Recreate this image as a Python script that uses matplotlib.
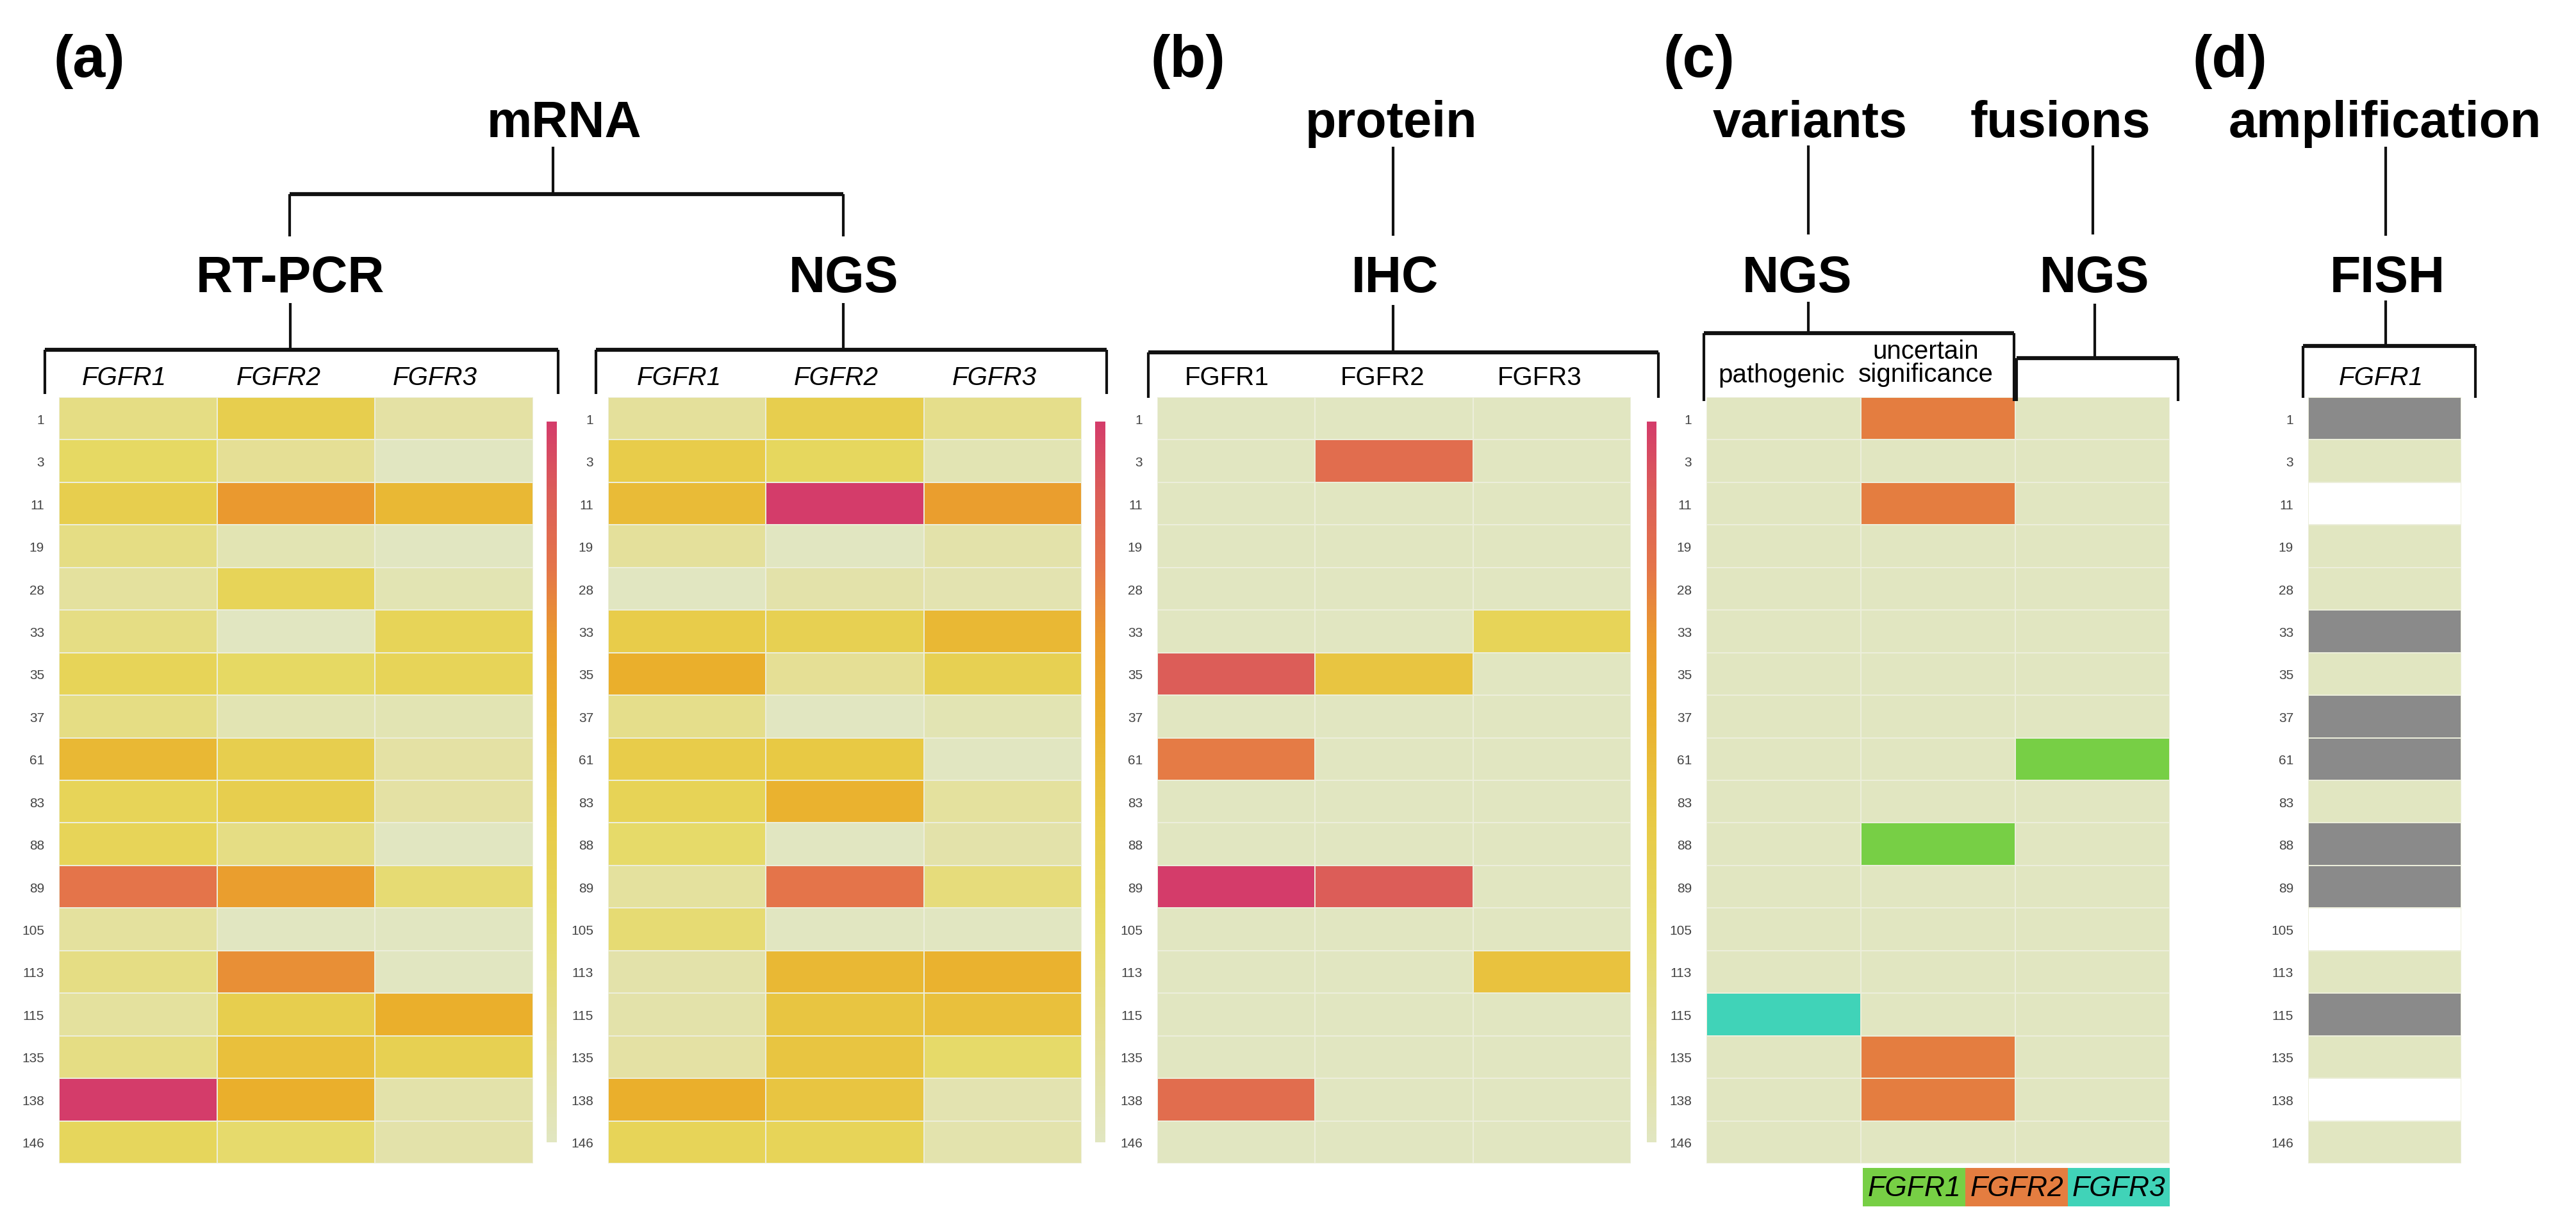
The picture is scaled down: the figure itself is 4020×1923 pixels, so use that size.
import numpy as np
import matplotlib
matplotlib.use("Agg")
import matplotlib.pyplot as plt
from matplotlib.colors import LinearSegmentedColormap, ListedColormap, Normalize, BoundaryNorm
from matplotlib.colorbar import ColorbarBase

plt.rcParams['font.family'] = ['Liberation Sans', 'DejaVu Sans']

samples = ['1', '3', '11', '19', '28', '33', '35', '37', '61', '83', '88', '89',
           '105', '113', '115', '135', '138', '146']
genes = ['FGFR1', 'FGFR2', 'FGFR3']

# mRNA expression, RT-PCR (relative level, 0-10)
rtpcr_fgfr1 = [2, 3, 4, 2, 1.2, 2, 3.5, 2, 5.5, 3.5, 3.5, 8, 1.2, 2, 1.2, 2, 10, 3.3]
rtpcr_fgfr2 = [4, 1.5, 7, 0.5, 3.5, 0, 3, 0.5, 4, 4, 2, 6.8, 0, 7.3, 4, 5, 6, 2.7]
rtpcr_fgfr3 = [1, 0, 5.5, 0, 0.5, 3.5, 3.5, 0.5, 1, 1, 0, 2.5, 0, 0, 6, 3.8, 0.8, 0.8]

# mRNA expression, NGS
ngs_fgfr1 = [1.3, 4.2, 5.3, 1.3, 0, 4.2, 6, 1.8, 4.2, 3.6, 2.8, 1.2, 2.5, 0.8, 0.8, 1, 6, 3.5]
ngs_fgfr2 = [4, 3.2, 10, 0, 0.8, 3.8, 1.5, 0, 4.5, 5.8, 0, 8, 0, 5.5, 4.7, 4.7, 4.7, 3.5]
ngs_fgfr3 = [1.8, 0.5, 6.8, 0.8, 0.6, 5.5, 3.8, 0.5, 0, 1.2, 0.8, 2.3, 0, 5.8, 5, 2.8, 0.6, 0.7]

# protein, IHC
ihc_fgfr1 = [0, 0, 0, 0, 0, 0, 9, 0, 7.8, 0, 0, 10, 0, 0, 0, 0, 8.3, 0]
ihc_fgfr2 = [0, 8.3, 0, 0, 0, 0, 4.7, 0, 0, 0, 0, 9, 0, 0, 0, 0, 0, 0]
ihc_fgfr3 = [0, 0, 0, 0, 0, 3.5, 0, 0, 0, 0, 0, 0, 0, 4.9, 0, 0, 0, 0]

# variants / fusions: 0 none, 1 FGFR1, 2 FGFR2, 3 FGFR3
var_pathogenic = [0, 0, 0, 0, 0, 0, 0, 0, 0, 0, 0, 0, 0, 0, 3, 0, 0, 0]
var_uncertain = [2, 0, 2, 0, 0, 0, 0, 0, 0, 0, 1, 0, 0, 0, 0, 2, 2, 0]
fusions = [0, 0, 0, 0, 0, 0, 0, 0, 1, 0, 0, 0, 0, 0, 0, 0, 0, 0]

# FISH FGFR1 amplification: 1 amplified, 0 not, nan not tested
fish_fgfr1 = [1, 0, np.nan, 0, 0, 1, 0, 1, 1, 0, 1, 1, np.nan, 0, 1, 0, np.nan, 0]

W, H = 4020, 1924
fig = plt.figure(figsize=(W / 100, H / 100), dpi=100)

expr_cmap = LinearSegmentedColormap.from_list('expr', [
    (0.0, '#e1e6c1'), (0.15, '#e5df95'), (0.3, '#e6d962'), (0.45, '#e8c944'),
    (0.6, '#eaaf2c'), (0.7, '#ea9a2e'), (0.8, '#e4744a'), (0.9, '#dc5e58'),
    (1.0, '#d43c6a')])
expr_norm = Normalize(0, 10)

cat_cmap = ListedColormap(['#e1e6c1', '#77cf45', '#e47d40', '#40d3b8'])
cat_norm = BoundaryNorm([-0.5, 0.5, 1.5, 2.5, 3.5], 4)
fish_cmap = ListedColormap(['#e1e6c1', '#8a8a8a'])
fish_norm = BoundaryNorm([-0.5, 0.5, 1.5], 2)

TOP, BOT = 621, 1817


def add_ax(x0, y0, x1, y1, **kw):
    return fig.add_axes([x0 / W, 1 - y1 / H, (x1 - x0) / W, (y1 - y0) / H], **kw)


def heatmap(x0, x1, cols, cmap, norm):
    ax = add_ax(x0, TOP, x1, BOT)
    data = np.ma.masked_invalid(np.array(cols, dtype=float).T)
    ax.pcolormesh(np.arange(data.shape[1] + 1), np.arange(data.shape[0] + 1), data,
                  cmap=cmap, norm=norm, edgecolors='#eceedb', linewidth=1.2)
    ax.set_ylim(len(samples), 0)
    ax.set_xlim(0, data.shape[1])
    ax.set_yticks(np.arange(len(samples)) + 0.5, samples)
    ax.set_xticks([])
    ax.tick_params(left=False, pad=13, labelsize=15, labelcolor='#444444')
    for s in ax.spines.values():
        s.set_visible(False)
    return ax


def colorbar(x0, x1):
    cax = add_ax(x0, 659, x1, 1784)
    cb = ColorbarBase(cax, cmap=expr_cmap, norm=expr_norm)
    cb.outline.set_visible(False)
    cb.set_ticks([])


heatmap(92, 832, [rtpcr_fgfr1, rtpcr_fgfr2, rtpcr_fgfr3], expr_cmap, expr_norm)
heatmap(949, 1688, [ngs_fgfr1, ngs_fgfr2, ngs_fgfr3], expr_cmap, expr_norm)
heatmap(1806, 2545, [ihc_fgfr1, ihc_fgfr2, ihc_fgfr3], expr_cmap, expr_norm)
heatmap(2663, 3386, [var_pathogenic, var_uncertain, fusions], cat_cmap, cat_norm)
heatmap(3602, 3841, [fish_fgfr1], fish_cmap, fish_norm)
colorbar(853, 869)
colorbar(1709, 1725)
colorbar(2570, 2585)

# overlay in pixel coordinates for brackets and labels
ov = add_ax(0, 0, W, H)
ov.set_xlim(0, W)
ov.set_ylim(H, 0)
ov.axis('off')
ov.patch.set_alpha(0)


def vline(x, y0, y1, lw=3):
    ov.plot([x, x], [y0, y1], color='#111111', lw=lw, solid_capstyle='butt')


def bracket(x0, x1, y, y1=622):
    ov.plot([x0, x1], [y, y], color='#111111', lw=4.5, solid_capstyle='butt')
    vline(x0, y, y1)
    vline(x1, y, y1)


def head(x, y, s, size=57):
    ov.text(x, y, s, ha='center', va='baseline', fontsize=size, fontweight='bold')


# panel letters
for x, s in [(83, '(a)'), (1796, '(b)'), (2595, '(c)'), (3421, '(d)')]:
    ov.text(x, 96, s, ha='left', va='center', fontsize=66, fontweight='bold')

# (a) mRNA
head(880, 214, 'mRNA')
vline(863, 230, 304)
ov.plot([452, 1316], [304, 304], color='#111111', lw=4.5, solid_capstyle='butt')
vline(452, 304, 370)
vline(1316, 304, 370)
head(453, 456, 'RT-PCR')
head(1316, 456, 'NGS')
vline(453, 474, 547)
vline(1316, 474, 547)
bracket(70, 871, 547, 616)
bracket(930, 1727, 547, 616)
for x, g in zip([194, 435, 679], genes):
    ov.text(x, 590, g, ha='center', va='center', fontsize=29, style='italic')
for x, g in zip([1060, 1305, 1552], genes):
    ov.text(x, 590, g, ha='center', va='center', fontsize=29, style='italic')

# (b) protein
head(2171, 214, 'protein')
vline(2174, 230, 369)
head(2177, 456, 'IHC')
vline(2174, 477, 551)
bracket(1792, 2588, 551)
for x, g in zip([1915, 2158, 2403], genes):
    ov.text(x, 590, g, ha='center', va='center', fontsize=29)

# (c) variants and fusions
head(2825, 214, 'variants')
vline(2822, 228, 367)
head(2805, 456, 'NGS')
vline(2822, 472, 521)
bracket(2659, 3143, 521, 627)
head(3215, 214, 'fusions')
vline(3266, 228, 367)
head(3268, 456, 'NGS')
vline(3269, 475, 560)
bracket(3147, 3399, 560, 627)
ov.text(2780, 586, 'pathogenic', ha='center', va='center', fontsize=29)
ov.text(3005, 567, 'uncertain\nsignificance', ha='center', va='center', fontsize=29,
        linespacing=0.95)

legend_cols = ['#77cf45', '#e47d40', '#40d3b8']
legend_x = [2907, 3067, 3227, 3386]
for i, g in enumerate(genes):
    ov.add_patch(plt.Rectangle((legend_x[i], 1824), legend_x[i + 1] - legend_x[i], 60,
                               color=legend_cols[i], lw=0))
    ov.text((legend_x[i] + legend_x[i + 1]) / 2, 1856, g, ha='center', va='center',
            fontsize=32, style='italic')

# (d) amplification
head(3722, 214, 'amplification')
vline(3723, 230, 369)
head(3726, 456, 'FISH')
vline(3723, 470, 541)
bracket(3594, 3863, 541)
ov.text(3716, 590, 'FGFR1', ha='center', va='center', fontsize=29, style='italic')

fig.savefig('out.png', dpi=100, facecolor='white')
